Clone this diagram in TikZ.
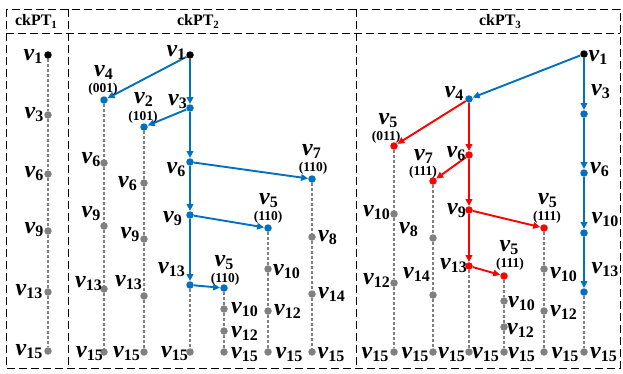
\documentclass[tikz,border=0pt]{standalone}
\usepackage{fontspec}
\setmainfont{Liberation Serif}
\usetikzlibrary{arrows.meta}
\definecolor{eblue}{RGB}{0,112,192}
\definecolor{ered}{RGB}{255,0,0}
\definecolor{egray}{RGB}{128,128,128}
\newcommand\V[1]{{\fontsize{24}{24}\selectfont\bfseries\itshape v}\raisebox{-3pt}{\fontsize{16}{16}\selectfont\bfseries #1}}
\newcommand\Cd[1]{{\fontsize{13.5}{13.5}\selectfont\bfseries (#1)}}
\newcommand\Hd[1]{{\fontsize{16}{16}\selectfont\bfseries ckPT\raisebox{-3pt}{\fontsize{11}{11}\selectfont #1}}}
\tikzset{
  dk/.style={circle,fill=black,inner sep=0pt,minimum size=7.5pt},
  du/.style={circle,fill=eblue,inner sep=0pt,minimum size=7.5pt},
  dr/.style={circle,fill=ered,inner sep=0pt,minimum size=7.5pt},
  dg/.style={circle,fill=egray,inner sep=0pt,minimum size=7.5pt},
  lab/.style={inner sep=0pt},
  gl/.style={egray,line width=1.7pt,dash pattern=on 3pt off 2pt},
  bl/.style={eblue,line width=1.9pt,-{Triangle[length=7pt,width=6.5pt]}},
  rl/.style={ered,line width=1.9pt,-{Triangle[length=7pt,width=6.5pt]}},
  frame/.style={black,line width=1pt,dash pattern=on 8pt off 4pt}
}
\begin{document}
\begin{tikzpicture}[x=1pt,y=-1pt]
\useasboundingbox (0,0) rectangle (623,373);
% frame
\draw[frame] (6,9) rectangle (620,368);
\draw[frame] (6,33) -- (620,33);
\draw[frame] (68.5,9) -- (68.5,368);
\draw[frame] (356.7,9) -- (356.7,368);
\node[lab] (h1) at (36,21) {\Hd{1}};
\node[lab] (h2) at (198,21) {\Hd{2}};
\node[lab] (h3) at (500,21) {\Hd{3}};

% ---------- column 1 ----------
\node[dk] (a1) at (48,55) {};
\node[dg] (a3) at (48,115) {};
\node[dg] (a6) at (48,174) {};
\node[dg] (a9) at (48,231) {};
\node[dg] (a13) at (48,292) {};
\node[dg] (a15) at (48,351) {};
\draw[gl] (a1) -- (a3) -- (a6) -- (a9) -- (a13) -- (a15);
\node[lab] (la1) at (33,56) {\V{1}};
\node[lab] (la3) at (34,115) {\V{3}};
\node[lab] (la6) at (34,174) {\V{6}};
\node[lab] (la9) at (34,230) {\V{9}};
\node[lab] (la13) at (29,292) {\V{13}};
\node[lab] (la15) at (29,352) {\V{15}};

% ---------- column 2 ----------
\node[dk] (b1) at (190,55) {};
\node[du] (b3) at (190,108) {};
\node[du] (b6) at (190,162) {};
\node[du] (b9) at (190,215) {};
\node[du] (b13) at (190,285) {};
\node[dg] (b15) at (190,352) {};
\node[du] (b4) at (104,100) {};
\node[du] (b2) at (144,127) {};
\node[du] (b5a) at (224,288) {};
\node[du] (b5b) at (268,228) {};
\node[du] (b7) at (312,179) {};
% chains
\node[dg] (b4a) at (104,163) {};
\node[dg] (b4b) at (104,226) {};
\node[dg] (b4c) at (104,289) {};
\node[dg] (b4d) at (104,352) {};
\node[dg] (b2a) at (144,183) {};
\node[dg] (b2b) at (144,239) {};
\node[dg] (b2c) at (144,296) {};
\node[dg] (b2d) at (144,352) {};
\node[dg] (b5a1) at (224,309) {};
\node[dg] (b5a2) at (224,331) {};
\node[dg] (b5a3) at (224,352) {};
\node[dg] (b5b1) at (268,269) {};
\node[dg] (b5b2) at (268,311) {};
\node[dg] (b5b3) at (268,352) {};
\node[dg] (b7a) at (312,237) {};
\node[dg] (b7b) at (312,294) {};
\node[dg] (b7c) at (312,352) {};
\draw[gl] (b4) -- (b4a) -- (b4b) -- (b4c) -- (b4d);
\draw[gl] (b2) -- (b2a) -- (b2b) -- (b2c) -- (b2d);
\draw[gl] (b13) -- (b15);
\draw[gl] (b5a) -- (b5a1) -- (b5a2) -- (b5a3);
\draw[gl] (b5b) -- (b5b1) -- (b5b2) -- (b5b3);
\draw[gl] (b7) -- (b7a) -- (b7b) -- (b7c);
% blue arrows
\draw[bl] (b1) -- (b4);
\draw[bl] (b1) -- (b3);
\draw[bl] (b3) -- (b2);
\draw[bl] (b3) -- (b6);
\draw[bl] (b6) -- (b7);
\draw[bl] (b6) -- (b9);
\draw[bl] (b9) -- (b5b);
\draw[bl] (b9) -- (b13);
\draw[bl] (b13) -- (b5a);
% labels
\node[lab] (lb1) at (176,52) {\V{1}};
\node[lab] (lb3) at (177.5,101.5) {\V{3}};
\node[lab] (lb6) at (176,170) {\V{6}};
\node[lab] (lb9) at (172.5,218.5) {\V{9}};
\node[lab] (lb13) at (171.5,269.5) {\V{13}};
\node[lab] (lb15) at (174.5,354) {\V{15}};
\node[lab] (lb4) at (103.5,72.5) {\V{4}};
\node[lab] (cb4) at (103,89.5) {\Cd{001}};
\node[lab] (lb2) at (143.5,99.5) {\V{2}};
\node[lab] (cb2) at (143,117.5) {\Cd{101}};
\node[lab] (lb4a) at (91,160) {\V{6}};
\node[lab] (lb4b) at (91,213.5) {\V{9}};
\node[lab] (lb4c) at (88.5,283.5) {\V{13}};
\node[lab] (lb4d) at (89.5,354) {\V{15}};
\node[lab] (lb2a) at (127.5,183.5) {\V{6}};
\node[lab] (lb2b) at (130,234.5) {\V{9}};
\node[lab] (lb2c) at (128.5,282.5) {\V{13}};
\node[lab] (lb2d) at (126.5,354) {\V{15}};
\node[lab] (lb5a) at (224,262.5) {\V{5}};
\node[lab] (cb5a) at (225,279.5) {\Cd{110}};
\node[lab] (lb5a1) at (244.5,310) {\V{10}};
\node[lab] (lb5a2) at (244.5,333) {\V{12}};
\node[lab] (lb5a3) at (244.5,355) {\V{15}};
\node[lab] (lb5b) at (268.5,200.5) {\V{5}};
\node[lab] (cb5b) at (268,217) {\Cd{110}};
\node[lab] (lb5b1) at (286.5,271.5) {\V{10}};
\node[lab] (lb5b2) at (287.5,311.5) {\V{12}};
\node[lab] (lb5b3) at (289,355) {\V{15}};
\node[lab] (lb7) at (311.5,151.5) {\V{7}};
\node[lab] (cb7) at (313,168) {\Cd{110}};
\node[lab] (lb7a) at (327.5,237.5) {\V{8}};
\node[lab] (lb7b) at (331.5,294.5) {\V{14}};
\node[lab] (lb7c) at (331,355) {\V{15}};

% ---------- column 3 ----------
\node[dk] (c1) at (584,54) {};
\node[du] (c3) at (584,114) {};
\node[du] (c6) at (584,173) {};
\node[du] (c10) at (584,233) {};
\node[du] (c13) at (584,292) {};
\node[dg] (c15) at (584,352) {};
\node[du] (c4) at (469,99) {};
\node[dr] (c5a) at (394,146) {};
\node[dr] (c6r) at (469,155) {};
\node[dr] (c7) at (433,181) {};
\node[dr] (c9) at (469,210) {};
\node[dr] (c13r) at (469,266) {};
\node[dr] (c5b) at (504,276) {};
\node[dr] (c5c) at (544,228) {};
\node[dg] (c5a1) at (394,214) {};
\node[dg] (c5a2) at (394,283) {};
\node[dg] (c5a3) at (394,352) {};
\node[dg] (c7a) at (433,238) {};
\node[dg] (c7b) at (433,295) {};
\node[dg] (c7c) at (433,352) {};
\node[dg] (c13a) at (469,352) {};
\node[dg] (c5b1) at (504,301) {};
\node[dg] (c5b2) at (504,327) {};
\node[dg] (c5b3) at (504,352) {};
\node[dg] (c5c1) at (544,269) {};
\node[dg] (c5c2) at (544,311) {};
\node[dg] (c5c3) at (544,352) {};
\draw[gl] (c13) -- (c15);
\draw[gl] (c5a) -- (c5a1) -- (c5a2) -- (c5a3);
\draw[gl] (c7) -- (c7a) -- (c7b) -- (c7c);
\draw[gl] (c13r) -- (c13a);
\draw[gl] (c5b) -- (c5b1) -- (c5b2) -- (c5b3);
\draw[gl] (c5c) -- (c5c1) -- (c5c2) -- (c5c3);
\draw[bl] (c1) -- (c4);
\draw[bl] (c1) -- (c3);
\draw[bl] (c3) -- (c6);
\draw[bl] (c6) -- (c10);
\draw[bl] (c10) -- (c13);
\draw[rl] (c4) -- (c5a);
\draw[rl] (c4) -- (c6r);
\draw[rl] (c6r) -- (c7);
\draw[rl] (c6r) -- (c9);
\draw[rl] (c9) -- (c5c);
\draw[rl] (c9) -- (c13r);
\draw[rl] (c13r) -- (c5b);
% labels
\node[lab] (lc1) at (598,57) {\V{1}};
\node[lab] (lc3) at (600.5,91.5) {\V{3}};
\node[lab] (lc6) at (599.5,170) {\V{6}};
\node[lab] (lc10) at (605,219.5) {\V{10}};
\node[lab] (lc13) at (605,270) {\V{13}};
\node[lab] (lc15) at (603.5,355) {\V{15}};
\node[lab] (lc4) at (454,93.5) {\V{4}};
\node[lab] (lc5a) at (388,120.5) {\V{5}};
\node[lab] (cc5a) at (386,137.5) {\Cd{011}};
\node[lab] (lc6r) at (456,153.5) {\V{6}};
\node[lab] (lc7) at (423.5,156) {\V{7}};
\node[lab] (cc7) at (423,172.5) {\Cd{111}};
\node[lab] (lc9) at (456.5,210.5) {\V{9}};
\node[lab] (lc13r) at (453.5,265.5) {\V{13}};
\node[lab] (lc5a1) at (376.5,212.5) {\V{10}};
\node[lab] (lc5a2) at (376.5,280) {\V{12}};
\node[lab] (lc5a3) at (375,355) {\V{15}};
\node[lab] (lc7a) at (408.5,229.5) {\V{8}};
\node[lab] (lc7b) at (416.5,274.5) {\V{14}};
\node[lab] (lc7c) at (415,355) {\V{15}};
\node[lab] (lc13a) at (451.5,355) {\V{15}};
\node[lab] (lc13b) at (485.5,355) {\V{15}};
\node[lab] (lc5b) at (509,248) {\V{5}};
\node[lab] (cc5b) at (510,264.5) {\Cd{111}};
\node[lab] (lc5b1) at (521.5,304) {\V{10}};
\node[lab] (lc5b2) at (520.5,330) {\V{12}};
\node[lab] (lc5b3) at (521.5,355) {\V{15}};
\node[lab] (lc5c) at (547.5,201) {\V{5}};
\node[lab] (cc5c) at (547,217.5) {\Cd{111}};
\node[lab] (lc5c1) at (563.5,275) {\V{10}};
\node[lab] (lc5c2) at (563.5,312.5) {\V{12}};
\node[lab] (lc5c3) at (565,355) {\V{15}};
\end{tikzpicture}
\end{document}
